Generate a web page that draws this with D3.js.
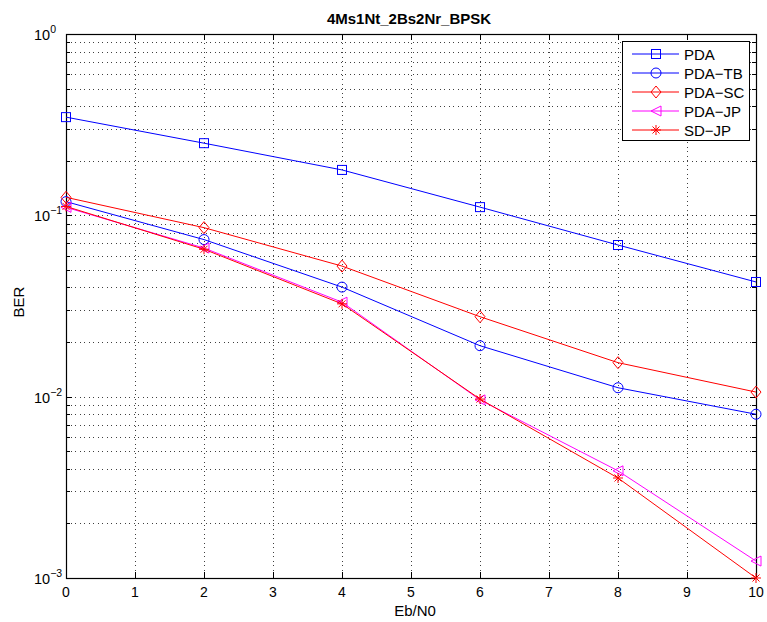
<!DOCTYPE html>
<html>
<head>
<meta charset="utf-8">
<script src="https://cdn.jsdelivr.net/npm/d3@7"></script>
<style>
  body { margin: 0; background: #fff; }
  text { font-family: "Liberation Sans", Arial, sans-serif; }
</style>
</head>
<body>
<div class="container"></div>
<script>
const ebn0 = [0, 2, 4, 6, 8, 10];
const seriesNames = ['PDA', 'PDA\u2212TB', 'PDA\u2212SC', 'PDA\u2212JP', 'SD\u2212JP'];
const pda   = [0.348, 0.25, 0.178, 0.111, 0.0686, 0.0429];
const pdaTB = [0.119, 0.0735, 0.0402, 0.0191, 0.0112, 0.0080];
const pdaSC = [0.1257, 0.0855, 0.0525, 0.0276, 0.0154, 0.0106];
const pdaJP = [0.1107, 0.066, 0.0332, 0.0096, 0.0039, 0.00124];
const sdJP  = [0.112, 0.065, 0.0325, 0.0097, 0.00356, 0.001];
const xTicks = [0, 1, 2, 3, 4, 5, 6, 7, 8, 9, 10];
const yDecades = [1e-3, 1e-2, 1e-1, 1e0];

const series = [
  { name: seriesNames[0], values: pda,   color: '#0000ff', marker: 'square' },
  { name: seriesNames[1], values: pdaTB, color: '#0000ff', marker: 'circle' },
  { name: seriesNames[2], values: pdaSC, color: '#ff0000', marker: 'diamond' },
  { name: seriesNames[3], values: pdaJP, color: '#ff00ff', marker: 'triangle' },
  { name: seriesNames[4], values: sdJP,  color: '#ff0000', marker: 'star' },
];

const width = 767;
const height = 622;
const padding = { top: 34, left: 66, right: 11, bottom: 44 };
const innerW = width - padding.left - padding.right;
const innerH = height - padding.top - padding.bottom;

const xScale = d3.scaleLinear().domain([0, 10]).range([0, innerW]);
const yScale = d3.scaleLog().domain([1e-3, 1]).range([innerH, 0]);

const svg = d3.select('.container').append('svg')
  .attr('width', width).attr('height', height);

const g = svg.append('g')
  .attr('transform', `translate(${padding.left}, ${padding.top})`);

// minor log values
const minor = [];
for (let e = -3; e < 0; e++) {
  for (let m = 1; m < 10; m++) minor.push(m * Math.pow(10, e));
}
minor.push(1);

// grid
const grid = g.append('g').attr('class', 'grid')
  .attr('stroke', '#000').attr('stroke-width', 1).attr('stroke-dasharray', '1,3.5')
  .attr('shape-rendering', 'crispEdges').attr('opacity', 0.75);
grid.selectAll('line.v').data(xTicks.slice(1, -1)).enter().append('line')
  .attr('x1', d => Math.round(xScale(d)) + 0.5).attr('x2', d => Math.round(xScale(d)) + 0.5)
  .attr('y1', 0).attr('y2', innerH);
grid.selectAll('line.h').data(minor.filter(d => d > 1e-3 && d < 1)).enter().append('line')
  .attr('y1', d => Math.round(yScale(d)) + 0.5).attr('y2', d => Math.round(yScale(d)) + 0.5)
  .attr('x1', 0).attr('x2', innerW);

// ticks inside on all sides
const ticks = g.append('g').attr('stroke', '#000').attr('stroke-width', 1)
  .attr('shape-rendering', 'crispEdges');
xTicks.forEach(d => {
  const x = Math.round(xScale(d)) + 0.5;
  ticks.append('line').attr('x1', x).attr('x2', x).attr('y1', innerH).attr('y2', innerH - 6);
  ticks.append('line').attr('x1', x).attr('x2', x).attr('y1', 0).attr('y2', 6);
});
minor.forEach(d => {
  const y = Math.round(yScale(d)) + 0.5;
  const isMajor = yDecades.includes(d);
  const len = isMajor ? 6 : 4;
  ticks.append('line').attr('x1', 0).attr('x2', len).attr('y1', y).attr('y2', y);
  ticks.append('line').attr('x1', innerW).attr('x2', innerW - len).attr('y1', y).attr('y2', y);
});

// frame
g.append('rect').attr('x', 0.5).attr('y', 0.5).attr('width', innerW).attr('height', innerH)
  .attr('fill', 'none').attr('stroke', '#000').attr('stroke-width', 1.2);

// x tick labels
g.append('g').selectAll('text').data(xTicks).enter().append('text')
  .attr('x', d => xScale(d)).attr('y', innerH + 19)
  .attr('text-anchor', 'middle').attr('font-size', 14).text(d => d);

// y tick labels
const yl = g.append('g').selectAll('text').data(yDecades).enter().append('text')
  .attr('x', -32).attr('y', d => yScale(d) + 6)
  .attr('text-anchor', 'start').attr('font-size', 14.5);
yl.append('tspan').text('10');
yl.append('tspan').attr('dy', -7).attr('font-size', 10.5)
  .text(d => { const e = Math.round(Math.log10(d)); return e < 0 ? '\u2212' + (-e) : String(e); });

// labels
svg.append('text').attr('x', padding.left + innerW / 2 - 2).attr('y', 24)
  .attr('text-anchor', 'middle').attr('font-size', 15).attr('font-weight', 'bold')
  .text('4Ms1Nt_2Bs2Nr_BPSK');
svg.append('text').attr('x', padding.left + innerW / 2 + 4).attr('y', 615.5)
  .attr('text-anchor', 'middle').attr('font-size', 15).text('Eb/N0');
svg.append('text').attr('transform', `translate(24, 302) rotate(-90)`)
  .attr('text-anchor', 'middle').attr('font-size', 15).text('BER');

function drawMarker(sel, type, color) {
  if (type === 'square') {
    sel.append('rect').attr('x', -4.5).attr('y', -4.5).attr('width', 9).attr('height', 9)
      .attr('fill', 'none').attr('stroke', color);
  } else if (type === 'circle') {
    sel.append('circle').attr('r', 5).attr('fill', 'none').attr('stroke', color);
  } else if (type === 'diamond') {
    sel.append('path').attr('d', 'M0,-6L5,0L0,6L-5,0Z').attr('fill', 'none').attr('stroke', color);
  } else if (type === 'triangle') {
    sel.append('path').attr('d', 'M-5,0L5,-5L5,5Z').attr('fill', 'none').attr('stroke', color);
  } else if (type === 'star') {
    sel.append('path').attr('d', 'M-5,0L5,0M0,-5L0,5M-3.5,-3.5L3.5,3.5M-3.5,3.5L3.5,-3.5')
      .attr('fill', 'none').attr('stroke', color);
  }
}

const line = d3.line().x((d, i) => xScale(ebn0[i])).y(d => yScale(d));

series.forEach(s => {
  g.append('path').attr('d', line(s.values)).attr('fill', 'none')
    .attr('stroke', s.color).attr('stroke-width', 1);
  g.append('g').selectAll('g').data(s.values).enter().append('g')
    .attr('transform', (d, i) => `translate(${xScale(ebn0[i])}, ${yScale(d)})`)
    .each(function () { drawMarker(d3.select(this), s.marker, s.color); });
});

// legend
const legend = svg.append('g').attr('transform', 'translate(622, 41)');
legend.append('rect').attr('x', 0.5).attr('y', 0.5).attr('width', 127).attr('height', 99)
  .attr('fill', '#fff').attr('stroke', '#000').attr('stroke-width', 1);
series.forEach((s, i) => {
  const row = legend.append('g').attr('transform', `translate(0, ${13 + i * 19})`);
  row.append('line').attr('x1', 10).attr('x2', 57).attr('y1', 0).attr('y2', 0)
    .attr('stroke', s.color).attr('stroke-width', 1);
  const m = row.append('g').attr('transform', 'translate(34, 0)');
  drawMarker(m, s.marker, s.color);
  row.append('text').attr('x', 62).attr('y', 5.5).attr('font-size', 15).text(s.name);
});
</script>
</body>
</html>
